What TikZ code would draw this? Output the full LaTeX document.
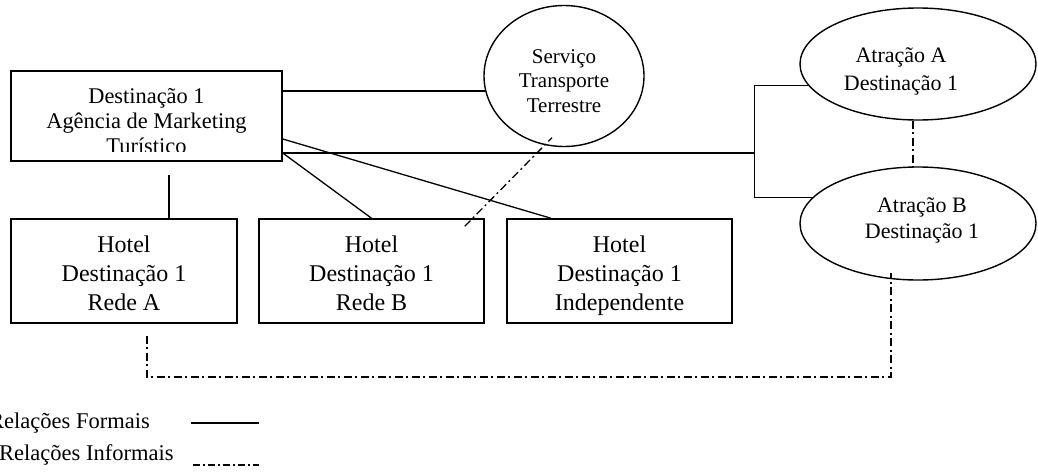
\documentclass[tikz,border=0pt]{standalone}
\usepackage{fontspec}
\setmainfont{Liberation Serif}
\usetikzlibrary{shapes.geometric}
\begin{document}
\begin{tikzpicture}[x=1pt,y=-1pt,
  boxnode/.style={draw, rectangle, line width=1.5pt, inner sep=0pt, minimum height=104pt, minimum width=225pt},
  ellnode/.style={draw, ellipse, line width=1.4pt, inner sep=0pt},
  formal/.style={line width=1.3pt},
  informal/.style={line width=1.3pt, dash pattern=on 8pt off 3.5pt on 2pt off 3.5pt},
  tbox/.style={anchor=base, inner sep=0pt, font=\fontsize{22.4}{25}\selectfont},
  thotel/.style={anchor=base, inner sep=0pt, font=\fontsize{24}{29}\selectfont},
  tserv/.style={anchor=base, inner sep=0pt, font=\fontsize{21}{25}\selectfont},
  tell/.style={anchor=base, inner sep=0pt, font=\fontsize{22}{26}\selectfont},
  tleg/.style={inner sep=0pt, font=\fontsize{22.5}{26}\selectfont}]
\useasboundingbox (0,0) rectangle (1038,474);

% shapes
\node[boxnode, minimum width=271pt, minimum height=90pt] (box1) at (146.5,116) {};
\node[boxnode, minimum width=226pt] (hA) at (124,271) {};
\node[boxnode] (hB) at (371.5,271) {};
\node[boxnode] (hC) at (619.5,271) {};
\node[ellnode, minimum width=160pt, minimum height=141pt] (serv) at (564,76) {};
\node[ellnode, minimum width=236pt, minimum height=112pt] (eA) at (918,64) {};
\node[ellnode, minimum width=236pt, minimum height=113pt] (eB) at (918,223.5) {};

% texts
\node[tbox] (b1a) at (146.5,103.3) {Destinação 1};
\node[tbox] (b1b) at (146.5,128.3) {Agência de Marketing};
\begin{scope}
  \clip (12,72) rectangle (281,151);
  \node[tbox] (b1c) at (146.5,153.3) {Turístico};
\end{scope}

\node[thotel] (hA1) at (124,252.3) {Hotel};
\node[thotel] (hA2) at (124,281.7) {Destinação 1};
\node[thotel] (hA3) at (124,310.5) {Rede A};
\node[thotel] (hB1) at (371.5,252.3) {Hotel};
\node[thotel] (hB2) at (371.5,281.7) {Destinação 1};
\node[thotel] (hB3) at (371.5,310.5) {Rede B};
\node[thotel] (hC1) at (619.5,252.3) {Hotel};
\node[thotel] (hC2) at (619.5,281.7) {Destinação 1};
\node[thotel] (hC3) at (619.5,310.5) {Independente};

\node[tserv] (s1) at (564,63.5) {Serviço};
\node[tserv] (s2) at (564,87.5) {Transporte};
\node[tserv] (s3) at (564,112) {Terrestre};

\node[tell] (eA1) at (901,62.5) {Atração A};
\node[tell] (eA2) at (901,90) {Destinação 1};
\node[tell] (eB1) at (922,212.5) {Atração B};
\node[tell] (eB2) at (922,238) {Destinação 1};

% formal connectors
\coordinate (p1) at ([yshift=25pt]box1.east);
\coordinate (p2) at ([yshift=-23pt]box1.east);
\coordinate (p3) at ([yshift=-37pt]box1.east);
\coordinate (j) at (754.3,153);
\draw[formal] (p1) -- (p1 -| serv.191);
\draw[formal] (p2) -- ([xshift=-68.5pt]hC.north);
\draw[formal] (p3) -- (hB.north);
\draw[formal] (p3) -- (j);
\draw[formal] (eA.191) -| (j) |- (eB.166);
\draw[formal] ([xshift=45pt]hA.north) -- ([xshift=22.5pt,yshift=-13pt]box1.south);

% informal connectors
\draw[informal] ([xshift=-20pt,yshift=-8pt]hB.north east) -- ([xshift=-12pt,yshift=9.5pt]serv.south);
\draw[informal] ([xshift=-5pt]eA.south) -- ([xshift=-5pt]eB.north);
\coordinate (q1) at ([xshift=23pt,yshift=-12pt]hA.south);
\coordinate (q2) at ([xshift=-27pt,yshift=8pt]eB.south);
\coordinate (low) at (0,377);
\draw[informal] (q1) -- (q1 |- low) -| (q2);

% legend
\node[tleg, anchor=base east] (lf) at (150,428) {Relações Formais};
\node[tleg, anchor=base west] (li) at (-1,460) {Relações Informais};
\coordinate (lf1) at (191,423);
\coordinate (lf2) at (259,423);
\coordinate (li1) at (193,465);
\coordinate (li2) at (259,465);
\draw[formal] (lf1) -- (lf2);
\draw[informal, dash pattern=on 7pt off 3pt on 2pt off 3pt] (li1) -- (li2);
\end{tikzpicture}
\end{document}
